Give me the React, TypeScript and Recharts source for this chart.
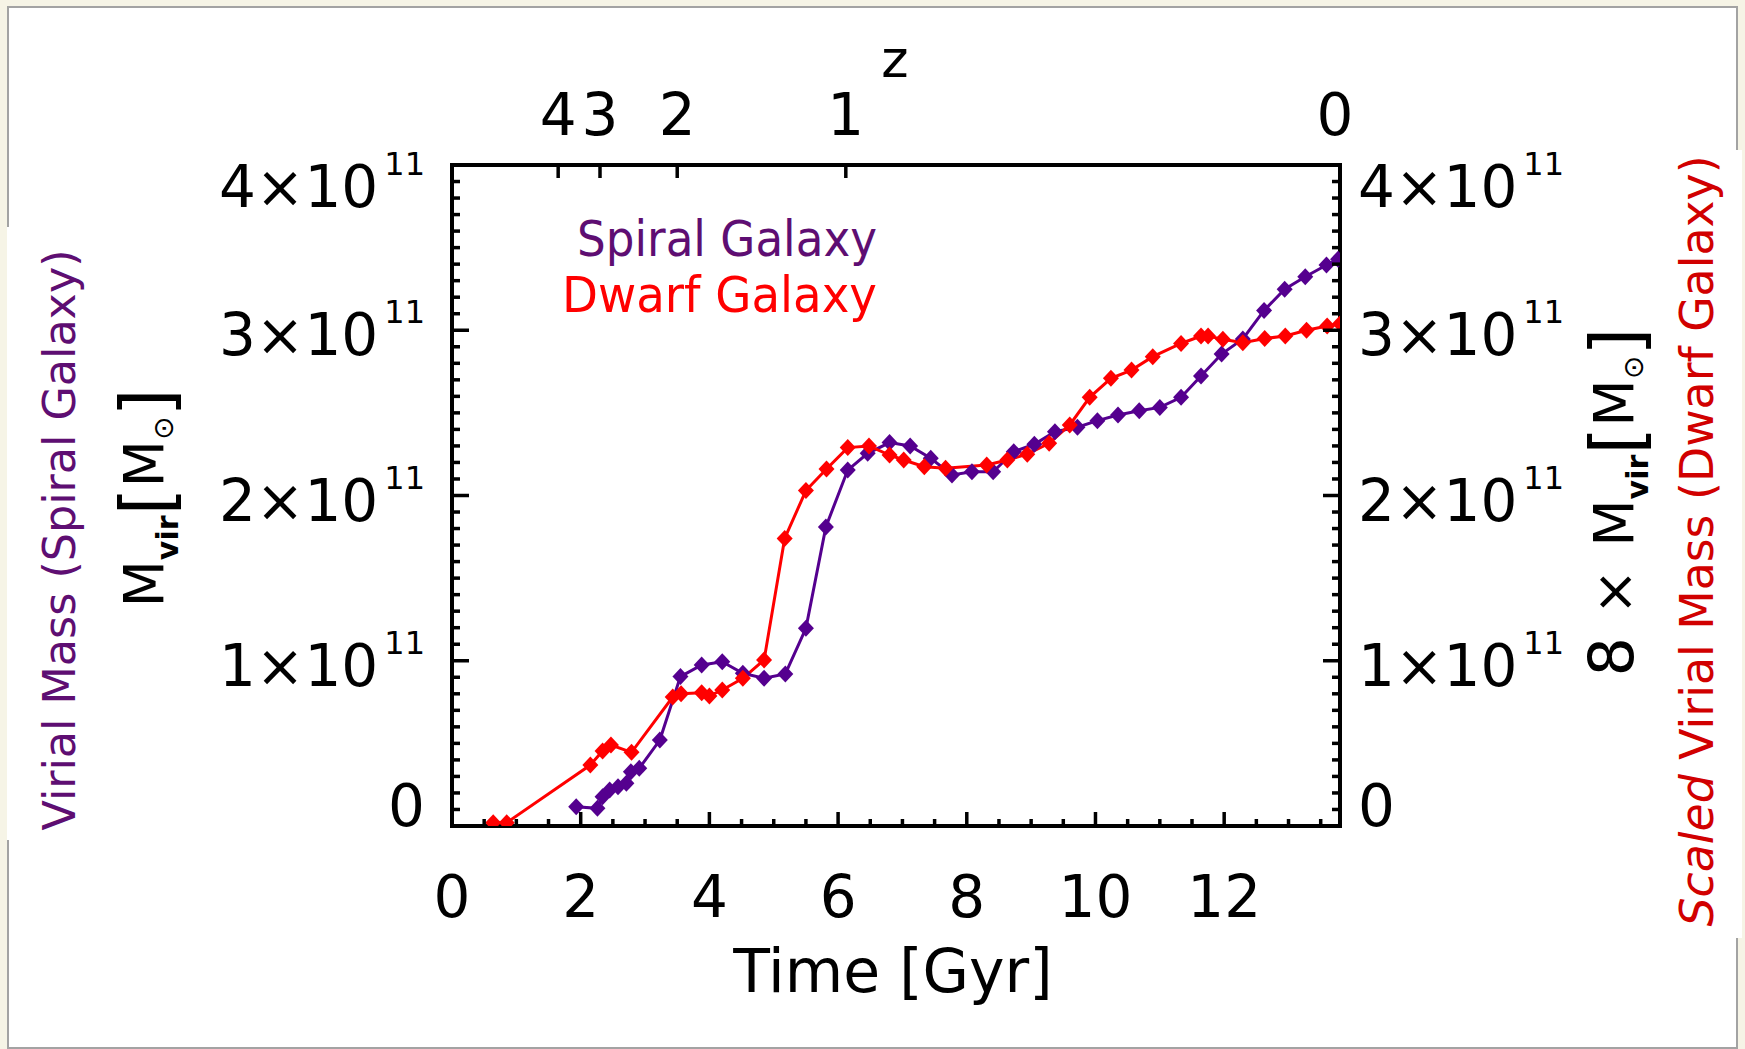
import { LineChart, Line, XAxis, YAxis } from 'recharts'

// time in Gyr, mass in units of 1e11 Msun
const spiralTime = [
  1.93, 2.26, 2.34, 2.45, 2.58, 2.71, 2.78, 2.91, 3.23, 3.55, 3.88, 4.2, 4.52, 4.85, 5.18, 5.5,
  5.81, 6.15, 6.46, 6.8, 7.12, 7.44, 7.77, 8.08, 8.41, 8.73, 9.05, 9.37, 9.72, 10.03, 10.35,
  10.68, 11.0, 11.33, 11.64, 11.96, 12.29, 12.62, 12.94, 13.26, 13.59, 13.77,
]
const spiralMass = [
  0.117, 0.107, 0.177, 0.218, 0.238, 0.258, 0.329, 0.349, 0.52, 0.904, 0.974, 0.994, 0.924, 0.894,
  0.92, 1.196, 1.81, 2.154, 2.255, 2.32, 2.3, 2.225, 2.124, 2.144, 2.144, 2.265, 2.31, 2.386,
  2.413, 2.453, 2.487, 2.513, 2.533, 2.594, 2.723, 2.856, 2.947, 3.12, 3.248, 3.324, 3.395, 3.43,
]

// dwarf galaxy, already multiplied by 8
const dwarfTime = [
  0.64, 0.85, 2.15, 2.34, 2.47, 2.79, 3.43, 3.56, 3.88, 4.0, 4.2, 4.52, 4.85, 5.17, 5.5, 5.82,
  6.15, 6.48, 6.8, 7.02, 7.34, 7.67, 8.31, 8.63, 8.94, 9.28, 9.6, 9.91, 10.24, 10.56, 10.89,
  11.33, 11.64, 11.75, 11.98, 12.29, 12.63, 12.95, 13.28, 13.6, 13.8,
]
const dwarfMass = [
  0.02, 0.02, 0.369, 0.454, 0.49, 0.446, 0.78, 0.8, 0.807, 0.787, 0.823, 0.894, 1.005, 1.74, 2.03,
  2.16, 2.29, 2.3, 2.245, 2.215, 2.174, 2.165, 2.185, 2.215, 2.25, 2.316, 2.427, 2.594, 2.709,
  2.759, 2.84, 2.92, 2.965, 2.965, 2.945, 2.925, 2.95, 2.965, 3.0, 3.026, 3.04,
]

const timeLabels = [0, 2, 4, 6, 8, 10, 12]
const massLabels = [0, 1, 2, 3, 4]
const redshiftTimes = [1.65, 2.3, 3.5, 6.12, 13.72]
const redshiftLabels = ['4', '3', '2', '1', '0']

const minorTimeTicks = Array.from({ length: 28 }, (_, i) => i * 0.5)
const minorMassTicks = Array.from({ length: 41 }, (_, i) => i / 10)

const spiral = spiralTime.map((t, i) => ({ t, m: spiralMass[i] }))
const dwarf = dwarfTime.map((t, i) => ({ t, m: dwarfMass[i] }))

const FONT = '"DejaVu Sans", sans-serif'
const PURPLE = '#55008f'
const PURPLE_TEXT = '#5e0e72'
const RED = '#ff0000'
const RED_TEXT = '#d10000'

const W = 1745
const H = 1049
const PLOT = { left: 452, right: 1340, top: 165, bottom: 826 }

function diamond(color: string) {
  return (props: any) => {
    const { cx, cy, index } = props
    if (cx == null || cy == null) return <g key={`${color}-${index}`} />
    return (
      <path
        key={`${color}-${index}`}
        d={`M${cx},${cy - 8.5}L${cx + 8},${cy}L${cx},${cy + 8.5}L${cx - 8},${cy}Z`}
        fill={color}
      />
    )
  }
}

function MassLabel({ x, y, value, anchor }: any) {
  const shift = value === 0 ? -21 : value === 4 ? 21 : 4
  const base = y + shift + 21
  if (value === 0) {
    return (
      <text x={x} y={base} textAnchor={anchor} fontSize={58} fontFamily={FONT} fill="#000">
        0
      </text>
    )
  }
  return (
    <text x={x} y={base} textAnchor={anchor} fontSize={58} fontFamily={FONT} fill="#000">
      {`${value}×10`}
      <tspan dx={6} dy={-32} fontSize={32}>
        11
      </tspan>
    </text>
  )
}

const isMajorMass = (v: number) => massLabels.some((m) => Math.abs(m - v) < 1e-6)
const isMajorTime = (v: number) => timeLabels.some((m) => Math.abs(m - v) < 1e-6)

function LeftTick(props: any) {
  const { x, y, payload } = props
  const major = isMajorMass(payload.value)
  return (
    <g>
      <line x1={x} y1={y} x2={x + (major ? 17 : 8)} y2={y} stroke="#000" strokeWidth={3.5} />
      {major && <MassLabel x={x - 27} y={y} value={Math.round(payload.value)} anchor="end" />}
    </g>
  )
}

function RightTick(props: any) {
  const { x, y, payload } = props
  const major = isMajorMass(payload.value)
  return (
    <g>
      <line x1={x} y1={y} x2={x - (major ? 17 : 8)} y2={y} stroke="#000" strokeWidth={3.5} />
      {major && <MassLabel x={x + 18} y={y} value={Math.round(payload.value)} anchor="start" />}
    </g>
  )
}

function BottomTick(props: any) {
  const { x, y, payload } = props
  const major = isMajorTime(payload.value)
  return (
    <g>
      <line x1={x} y1={y} x2={x} y2={y - (major ? 14 : 7)} stroke="#000" strokeWidth={3.5} />
      {major && (
        <text x={x} y={y + 91} textAnchor="middle" fontSize={58} fontFamily={FONT} fill="#000">
          {payload.value}
        </text>
      )}
    </g>
  )
}

function TopTick(props: any) {
  const { x, y, payload } = props
  const i = redshiftTimes.findIndex((t) => Math.abs(t - payload.value) < 1e-6)
  const last = i === redshiftTimes.length - 1
  return (
    <g>
      {!last && <line x1={x} y1={y} x2={x} y2={y + 13} stroke="#000" strokeWidth={3.5} />}
      <text x={x} y={y - 30} textAnchor="middle" fontSize={58} fontFamily={FONT} fill="#000">
        {redshiftLabels[i]}
      </text>
    </g>
  )
}

const axisLine = { stroke: '#000', strokeWidth: 4, strokeLinecap: 'square' as const }

export default function App() {
  return (
    <div style={{ position: 'absolute', left: 0, top: 0, width: W, height: H, background: '#f6f4e6' }}>
      <div
        style={{
          position: 'absolute',
          left: 7,
          top: 6,
          width: 1731,
          height: 1043,
          background: '#fff',
          border: '2px solid #a3a3a3',
          boxSizing: 'border-box',
        }}
      />
      <div style={{ position: 'absolute', left: 7, top: 227, width: 5, height: 613, background: '#fff' }} />
      <div style={{ position: 'absolute', left: 1700, top: 150, width: 42, height: 788, background: '#fff' }} />
      <div style={{ position: 'absolute', left: 0, top: 0 }}>
        <LineChart width={W} height={H} margin={{ top: 0, right: 0, bottom: 0, left: 0 }}>
          <XAxis
            xAxisId="t"
            dataKey="t"
            type="number"
            domain={[0, 13.8]}
            allowDataOverflow
            ticks={minorTimeTicks}
            interval={0}
            height={H - PLOT.bottom}
            tickSize={0}
            tickMargin={0}
            tickLine={false}
            axisLine={axisLine}
            tick={BottomTick}
          />
          <XAxis
            xAxisId="z"
            dataKey="t"
            orientation="top"
            type="number"
            domain={[0, 13.8]}
            allowDataOverflow
            ticks={redshiftTimes}
            interval={0}
            height={PLOT.top}
            tickSize={0}
            tickMargin={0}
            tickLine={false}
            axisLine={axisLine}
            tick={TopTick}
          />
          <YAxis
            yAxisId="m"
            type="number"
            domain={[0, 4]}
            allowDataOverflow
            ticks={minorMassTicks}
            interval={0}
            width={PLOT.left}
            tickSize={0}
            tickMargin={0}
            tickLine={false}
            axisLine={axisLine}
            tick={LeftTick}
          />
          <YAxis
            yAxisId="r"
            orientation="right"
            type="number"
            domain={[0, 4]}
            allowDataOverflow
            ticks={minorMassTicks}
            interval={0}
            width={W - PLOT.right}
            tickSize={0}
            tickMargin={0}
            tickLine={false}
            axisLine={axisLine}
            tick={RightTick}
          />
          {/* carries the redshift axis, draws nothing */}
          <Line
            xAxisId="z"
            yAxisId="r"
            data={spiral}
            dataKey="m"
            stroke="none"
            dot={false}
            activeDot={false}
            legendType="none"
            isAnimationActive={false}
          />
          <Line
            xAxisId="t"
            yAxisId="m"
            data={spiral}
            dataKey="m"
            stroke={PURPLE}
            strokeWidth={3}
            dot={diamond(PURPLE)}
            activeDot={false}
            isAnimationActive={false}
          />
          <Line
            xAxisId="t"
            yAxisId="m"
            data={dwarf}
            dataKey="m"
            stroke={RED}
            strokeWidth={3}
            dot={diamond(RED)}
            activeDot={false}
            isAnimationActive={false}
          />
        </LineChart>
      </div>
      <svg
        width={W}
        height={H}
        style={{ position: 'absolute', left: 0, top: 0, pointerEvents: 'none' }}
        fontFamily={FONT}
      >
        <text x={877} y={256} textAnchor="end" fontSize={50} fill={PURPLE_TEXT} textLength={300} lengthAdjust="spacingAndGlyphs">
          Spiral Galaxy
        </text>
        <text x={877} y={312} textAnchor="end" fontSize={50} fill={RED} textLength={315} lengthAdjust="spacingAndGlyphs">
          Dwarf Galaxy
        </text>
        <text x={895} y={77} textAnchor="middle" fontSize={52} fill="#000">
          z
        </text>
        <text x={893} y={992} textAnchor="middle" fontSize={60} fill="#000">
          Time [Gyr]
        </text>
        <text
          transform="translate(75, 540) rotate(-90)"
          textAnchor="middle"
          fontSize={45}
          fill={PURPLE_TEXT}
          textLength={581}
          lengthAdjust="spacingAndGlyphs"
        >
          Virial Mass (Spiral Galaxy)
        </text>
        <text transform="translate(163, 498) rotate(-90)" textAnchor="middle" fontSize={55} fill="#000">
          M
          <tspan fontSize={30} fontWeight="bold" dy={15}>
            vir
          </tspan>
          <tspan fontSize={72} dy={-7}>
            [
          </tspan>
          <tspan fontSize={55} dy={-8}>
            M
          </tspan>
          <tspan fontSize={28} dy={10}>
            ⊙
          </tspan>
          <tspan fontSize={72} dy={-2}>
            ]
          </tspan>
        </text>
        <text transform="translate(1633, 502) rotate(-90)" textAnchor="middle" fontSize={55} fill="#000">
          <tspan fontSize={62}>8</tspan>
          <tspan dx={22}>×</tspan>
          <tspan dx={22}>M</tspan>
          <tspan fontSize={30} fontWeight="bold" dy={15}>
            vir
          </tspan>
          <tspan fontSize={72} dy={-7}>
            [
          </tspan>
          <tspan fontSize={55} dy={-8}>
            M
          </tspan>
          <tspan fontSize={28} dy={10}>
            ⊙
          </tspan>
          <tspan fontSize={72} dy={-2}>
            ]
          </tspan>
        </text>
        <text
          transform="translate(1713, 541) rotate(-90)"
          textAnchor="middle"
          fontSize={46}
          fill={RED_TEXT}
          textLength={771}
          lengthAdjust="spacingAndGlyphs"
        >
          <tspan fontStyle="italic">Scaled</tspan> Virial Mass (Dwarf Galaxy)
        </text>
      </svg>
    </div>
  )
}
